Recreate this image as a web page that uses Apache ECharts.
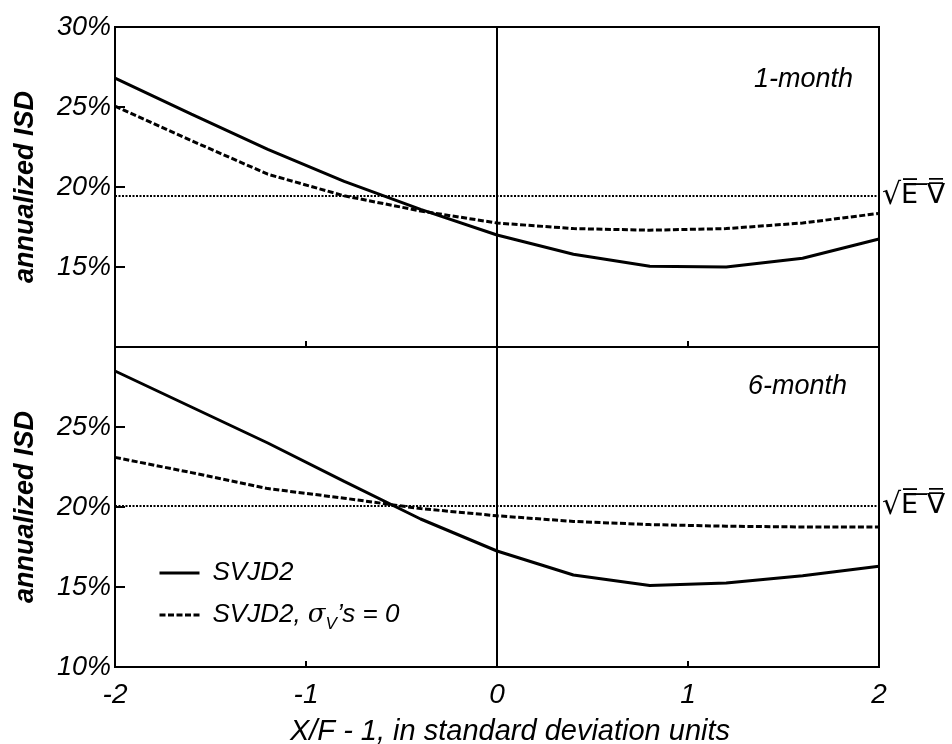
<!DOCTYPE html>
<html>
<head>
<meta charset="utf-8">
<script src="https://cdn.jsdelivr.net/npm/echarts@6/dist/echarts.min.js"></script>
<style>
  html, body { margin: 0; padding: 0; background: #fff; }
  #main { width: 952px; height: 744px; }
</style>
</head>
<body>
<div id="main"></div>
<script>
// strike points, in standard deviation units
var xs = [-2, -1.6, -1.2, -0.8, -0.4, 0, 0.4, 0.8, 1.2, 1.6, 2];

// 1-month ISD (%)
var oneMonthSvjd = [26.8, 24.55, 22.35, 20.35, 18.6, 17.0, 15.8, 15.05, 15.0, 15.55, 16.75];
var oneMonthNoVolVol = [25.05, 22.9, 20.8, 19.45, 18.5, 17.75, 17.4, 17.3, 17.4, 17.75, 18.35];
var oneMonthEV = 19.43;

// 6-month ISD (%)
var sixMonthSvjd = [28.5, 26.25, 24.0, 21.6, 19.25, 17.25, 15.75, 15.1, 15.25, 15.7, 16.3];
var sixMonthNoVolVol = [23.1, 22.15, 21.15, 20.55, 19.9, 19.45, 19.1, 18.9, 18.8, 18.75, 18.75];
var sixMonthEV = 20.05;

var seriesNames = ['SVJD2', 'SVJD2, σV’s = 0'];
var panelNames = ['1-month', '6-month'];

function pairs(arr) {
  return xs.map(function (x, i) { return [x, arr[i]]; });
}

var FONT = 'Liberation Sans, Arial, sans-serif';
var black = '#000';

function yAxisFor(idx, hidden) {
  return {
    type: 'value',
    gridIndex: idx,
    min: 10, max: 30, interval: 5,
    name: 'annualized ISD',
    nameLocation: 'middle',
    nameRotate: 90,
    nameGap: 76,
    nameTextStyle: { fontFamily: FONT, fontSize: 27, fontStyle: 'italic', fontWeight: 'bold', color: black },
    axisLine: { show: true, onZero: false, lineStyle: { color: black, width: 2 } },
    axisTick: { show: true, inside: true, length: 10, lineStyle: { color: black, width: 2 } },
    splitLine: { show: false },
    axisLabel: {
      margin: 4,
      fontFamily: FONT, fontSize: 27, fontStyle: 'italic', color: black,
      formatter: function (v) { return v === hidden ? '' : v + '%'; }
    }
  };
}

function xAxisFor(idx, showLabels) {
  return {
    type: 'value',
    gridIndex: idx,
    min: -2, max: 2, interval: 1,
    name: showLabels ? 'X/F - 1, in standard deviation units' : '',
    nameLocation: 'middle',
    nameGap: 50,
    nameTextStyle: { fontFamily: FONT, fontSize: 29, fontStyle: 'italic', color: black, padding: [0, 0, 0, 26] },
    axisLine: { show: true, onZero: false, lineStyle: { color: black, width: 2 } },
    axisTick: { show: true, inside: true, length: 6, lineStyle: { color: black, width: 2 } },
    splitLine: { show: false },
    axisLabel: {
      show: showLabels,
      margin: 14,
      fontFamily: FONT, fontSize: 28, fontStyle: 'italic', color: black
    }
  };
}

function refLines(ev) {
  return {
    silent: true,
    symbol: ['none', 'none'],
    animation: false,
    data: [
      {
        xAxis: 0,
        lineStyle: { color: black, width: 2, type: 'solid' },
        label: { show: false }
      },
      {
        yAxis: ev,
        lineStyle: { color: black, width: 2, type: [2, 1.5] },
        label: {
          show: true, position: 'end', distance: 3,
          formatter: '{r|√}{t|E\u0305\u00A0\u0305V\u033F}',
          rich: {
            r: { fontFamily: 'DejaVu Sans', fontSize: 30, color: black },
            t: { fontFamily: 'DejaVu Sans', fontSize: 27, color: black }
          }
        }
      }
    ]
  };
}

function lineSeries(name, idx, arr, dashed, ev) {
  var s = {
    name: name,
    type: 'line',
    xAxisIndex: idx,
    yAxisIndex: idx,
    data: pairs(arr),
    symbol: 'none',
    smooth: false,
    lineStyle: { color: black, width: 3, type: dashed ? [6, 2.5] : 'solid' },
    itemStyle: { color: black }
  };
  if (ev !== undefined) s.markLine = refLines(ev);
  return s;
}

var myChart = echarts.init(document.getElementById('main'));
myChart.setOption({
  animation: false,
  backgroundColor: '#fff',
  title: [
    {
      text: panelNames[0], right: 94, top: 61,
      textStyle: { fontFamily: FONT, fontSize: 27, fontStyle: 'italic', fontWeight: 'normal', color: black }
    },
    {
      text: panelNames[1], right: 100, top: 368,
      textStyle: { fontFamily: FONT, fontSize: 27, fontStyle: 'italic', fontWeight: 'normal', color: black }
    }
  ],
  legend: {
    data: seriesNames,
    orient: 'vertical',
    left: 153,
    top: 550,
    itemWidth: 40,
    itemHeight: 14,
    itemGap: 6,
    itemStyle: { opacity: 0 },
    lineStyle: { width: 3 },
    textStyle: {
      fontFamily: FONT, fontSize: 26, fontStyle: 'italic', color: black,
      lineHeight: 36, padding: [0, 0, 0, 8],
      rich: {
        g: { fontFamily: 'DejaVu Serif', fontSize: 26, fontStyle: 'italic', lineHeight: 36, color: black },
        sub: { fontFamily: FONT, fontSize: 17, fontStyle: 'italic', lineHeight: 18, verticalAlign: 'bottom', color: black }
      }
    },
    formatter: function (name) {
      if (name === seriesNames[1]) return 'SVJD2, {g|σ}{sub|V}’s = 0';
      return name;
    }
  },
  grid: [
    { left: 115, right: 73, top: 27, height: 320, show: true, borderColor: black, borderWidth: 2, outerBoundsMode: 'none' },
    { left: 115, right: 73, top: 347, height: 320, show: true, borderColor: black, borderWidth: 2, outerBoundsMode: 'none' }
  ],
  xAxis: [xAxisFor(0, false), xAxisFor(1, true)],
  yAxis: [yAxisFor(0, 10), yAxisFor(1, 30)],
  series: [
    lineSeries(seriesNames[0], 0, oneMonthSvjd, false, oneMonthEV),
    lineSeries(seriesNames[1], 0, oneMonthNoVolVol, true),
    lineSeries(seriesNames[0], 1, sixMonthSvjd, false, sixMonthEV),
    lineSeries(seriesNames[1], 1, sixMonthNoVolVol, true)
  ]
});
</script>
</body>
</html>
